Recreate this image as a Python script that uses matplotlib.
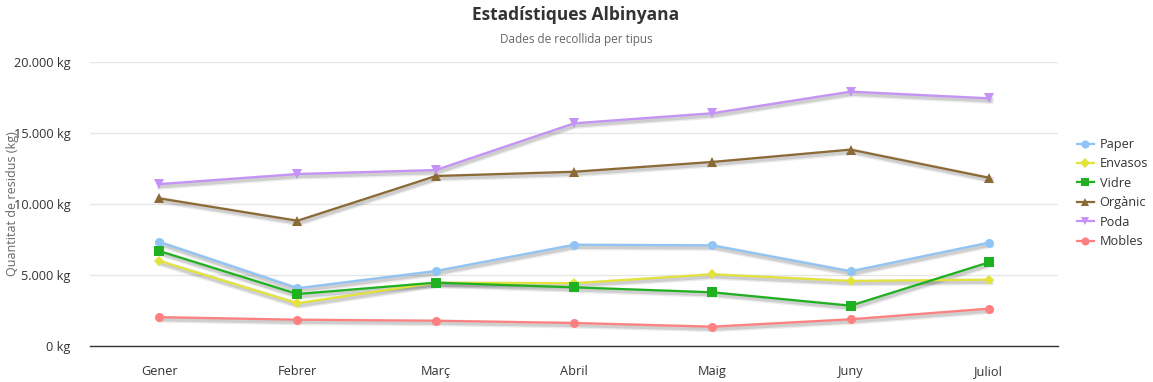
import matplotlib
matplotlib.use("Agg")
import matplotlib.pyplot as plt
import matplotlib.patheffects as pe
from matplotlib.ticker import FuncFormatter, MultipleLocator

plt.rcParams['font.family'] = ['Open Sans', 'DejaVu Sans']

months = ["Gener", "Febrer", "Març", "Abril", "Maig", "Juny", "Juliol"]
paper = [7330, 4070, 5280, 7130, 7090, 5260, 7280]
envasos = [5990, 3010, 4460, 4420, 5050, 4580, 4670]
vidre = [6690, 3660, 4460, 4130, 3780, 2840, 5890]
organic = [10400, 8820, 11970, 12270, 12960, 13830, 11850]
poda = [11400, 12110, 12390, 15680, 16390, 17910, 17440]
mobles = [2030, 1850, 1780, 1620, 1360, 1880, 2630]

series = [
    ("Paper", paper, "#90c4f5", "o"),
    ("Envasos", envasos, "#e3e33c", "D"),
    ("Vidre", vidre, "#1fb11f", "s"),
    ("Orgànic", organic, "#8b6a36", "^"),
    ("Poda", poda, "#c592f7", "v"),
    ("Mobles", mobles, "#ff8080", "o"),
]

fig = plt.figure(figsize=(11.53, 3.82), dpi=100)
ax = fig.add_axes([90/1153, 1-346/382, (1058-90)/1153, (346-62)/382])

x = list(range(len(months)))
shadow = [
    pe.SimpleLineShadow(offset=(1.0, -1.5), shadow_color='#000000', alpha=0.08, linewidth=5),
    pe.SimpleLineShadow(offset=(1.0, -1.5), shadow_color='#000000', alpha=0.12, linewidth=3),
]
for name, vals, col, mk in series:
    ms = 6.5
    if mk == "D":
        ms = 5.5
    ax.plot(x, vals, color=col, linewidth=1.6, path_effects=shadow, zorder=2)
    ax.plot(x, vals, color=col, marker=mk, markersize=ms, linewidth=1.6,
            label=name, markeredgewidth=0, zorder=3)

ax.set_xlim(-0.5, len(months) - 0.5)
ax.set_ylim(0, 20000)
ax.yaxis.set_major_locator(MultipleLocator(5000))
ax.yaxis.set_major_formatter(FuncFormatter(lambda v, p: f"{int(v):,}".replace(",", ".") + " kg"))
ax.set_xticks(x)
ax.set_xticklabels(months)
ax.tick_params(axis='both', length=0, labelsize=9.2, colors='#333333')
ax.tick_params(axis='x', pad=14)
ax.tick_params(axis='y', pad=14)
ax.grid(axis='y', color='#e6e6e6', linewidth=1)
ax.set_axisbelow(True)
for s in ['top', 'right', 'left']:
    ax.spines[s].set_visible(False)
ax.spines['bottom'].set_color('#333333')
ax.spines['bottom'].set_linewidth(1)

fig.text(6/1153, 1-204/382, "Quantitat de residus (kg)", rotation=90, ha='left', va='center',
         fontsize=9, color='#666666')
fig.text(576/1153, 1-15/382, "Estadístiques Albinyana", ha='center', va='center',
         fontsize=12.5, fontweight='bold', color='#333333')
fig.text(576/1153, 1-40/382, "Dades de recollida per tipus", ha='center', va='center',
         fontsize=8.5, color='#666666')

leg = fig.legend(loc='center left', bbox_to_anchor=(1065/1153, 1-193/382), frameon=False,
                 fontsize=9.2, handlelength=1.4, handletextpad=0.4, labelspacing=0.5,
                 labelcolor='#333333', markerscale=0.9)

fig.savefig("out.png", dpi=100)
